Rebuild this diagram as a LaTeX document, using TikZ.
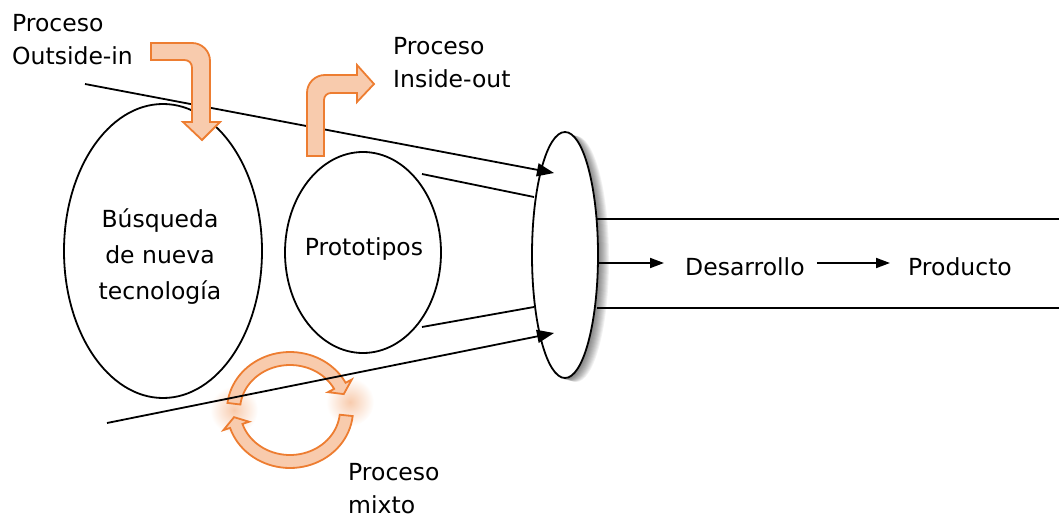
\documentclass[tikz,border=0pt]{standalone}
\usepackage{fontspec}
\setmainfont{DejaVu Sans}
\usetikzlibrary{arrows.meta,shapes.geometric}
\definecolor{orline}{HTML}{ED7D31}
\definecolor{orfill}{HTML}{F8CBAD}
\begin{document}
\begin{tikzpicture}[x=1pt,y=-1pt,
  txt/.style={font=\fontsize{23.5}{33}\selectfont, inner sep=0pt, align=left},
  ctxt/.style={font=\fontsize{23.5}{36}\selectfont, inner sep=0pt, align=center},
  oval/.style={ellipse, draw=black, line width=1.8pt, inner sep=0pt, fill=white},
  wire/.style={draw=black, line width=1.8pt},
  bigarr/.style={wire, -{Triangle[length=17pt,width=13pt]}},
  smallarr/.style={wire, -{Triangle[length=14pt,width=10pt]}},
  oarrow/.style={draw=orline, fill=orfill, line width=1.8pt, line join=miter}]
\useasboundingbox (0,0) rectangle (1059,521);

% soft glow at the gaps of the cycle arrows
\shade[inner color=orfill, outer color=white] (234,410) circle (24);
\shade[inner color=orfill, outer color=white] (350,402) circle (24);

% cycle arrows of the mixed process
\filldraw[oarrow]
  plot[domain=173:28,samples=40] ({290+63*cos(\x)},{410-58*sin(\x)})
  -- ({290+70*cos(28)},{410-65*sin(28)})
  -- ({290+56.5*cos(18)},{410-51.5*sin(18)})
  -- ({290+43*cos(28)},{410-38*sin(28)})
  -- plot[domain=28:173,samples=40] ({290+50*cos(\x)},{410-45*sin(\x)})
  -- cycle;
\filldraw[oarrow]
  plot[domain=-6:-162,samples=40] ({290+63*cos(\x)},{410-58*sin(\x)})
  -- ({290+70*cos(-162)},{410-65*sin(-162)})
  -- ({290+56.5*cos(-172)},{410-51.5*sin(-172)})
  -- ({290+43*cos(-162)},{410-38*sin(-162)})
  -- plot[domain=-162:-6,samples=40] ({290+50*cos(\x)},{410-45*sin(\x)})
  -- cycle;

% idea ellipses
\node[oval, minimum width=198pt, minimum height=294pt] (busq) at (163,251) {};
\node[oval, minimum width=156pt, minimum height=201pt] (proto) at (363,252.5) {};
\node[ctxt, anchor=base] (busqtxt) at (160,299) {Búsqueda\\de nueva\\tecnología};
\node[txt, anchor=base] (prototxt) at (364,255) {Prototipos};

% shadow and gate ellipse
\foreach \i in {1,...,12}
  \fill[black, opacity=0.055] (564+\i,256+0.25*\i) ellipse (33 and 123);
\node[oval, minimum width=66pt, minimum height=246pt] (gate) at (565,255) {};

% funnel lines
\coordinate (ftop) at (85,84);
\coordinate (fbot) at (107,423);
\coordinate (gtop) at (554,173);
\coordinate (gbot) at (554,333);
\draw[bigarr] (ftop) -- (gtop);
\draw[bigarr] (fbot) -- (gbot);
\coordinate (ptop) at (422,174);
\coordinate (pbot) at (422,327);
\coordinate (gin1) at (534,197);
\coordinate (gin2) at (534,307);
\draw[wire] (ptop) -- (gin1);
\draw[wire] (pbot) -- (gin2);

% pipe to the right
\coordinate (pipe1) at (597,219);
\coordinate (pipe2) at (597,308);
\coordinate (pipe1e) at (1059,219);
\coordinate (pipe2e) at (1059,308);
\draw[wire] (pipe1) -- (pipe1e);
\draw[wire] (pipe2) -- (pipe2e);

\node[txt, anchor=base west] (des) at (685,275) {Desarrollo};
\node[txt, anchor=base west] (prod) at (908,275) {Producto};
\coordinate (gout) at (598,263);
\draw[smallarr] (gout) -- ([xshift=-21pt]des.west |- gout);
\draw[smallarr] ([xshift=12pt]des.east |- gout) -- ([xshift=-18pt]prod.west |- gout);

% outside-in arrow
\filldraw[oarrow] (151,43) -- (192,43) .. controls (202,43) and (210,51) .. (210,61)
  -- (210,122) -- (220,122) -- (202,140) -- (183,122) -- (192,122) -- (192,68)
  .. controls (192,63) and (189,60) .. (184,60) -- (151,60) -- cycle;

% inside-out arrow
\filldraw[oarrow] (307,156) -- (307,93) .. controls (307,83) and (315,75) .. (325,75)
  -- (357,75) -- (357,65) -- (374,84) -- (357,102) -- (357,93) -- (331,93)
  .. controls (327,93) and (324,96) .. (324,100) -- (324,156) -- cycle;

% labels
\node[txt, anchor=base west] (lblout) at (12,65) {Proceso\\Outside-in};
\node[txt, anchor=base west] (lblin) at (393,88) {Proceso\\Inside-out};
\node[txt, anchor=base west] (lblmix) at (348,513) {Proceso\\mixto};
\end{tikzpicture}
\end{document}
